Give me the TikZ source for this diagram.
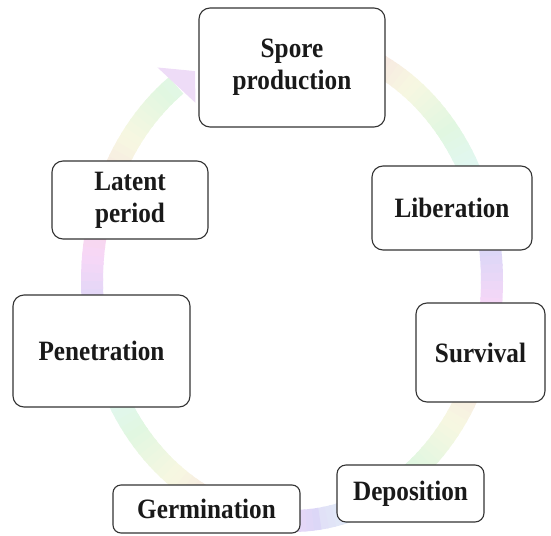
\documentclass[tikz,border=0pt]{standalone}
\usepackage{fontspec}
\setmainfont{Liberation Serif}[FakeStretch=0.9]
\begin{document}
\begin{tikzpicture}[x=1pt,y=-1pt,
  stage/.style={draw=black!80,line width=1.1pt,fill=white,rounded corners=11pt,
    inner sep=0pt,align=center,font=\fontsize{28}{32}\selectfont\bfseries,text=black!90}]
\useasboundingbox (0,0) rectangle (551,535);
% pastel cycle ring
\foreach \t in {-80,-78,...,232}{
  \pgfmathsetmacro{\h}{mod(4*\t+1000,360)}
  \pgfmathsetmacro{\s}{(\h>240 || \h<20) ? 0.13 : 0.09}
  \definecolor{ringc}{Hsb}{\h,\s,0.97}
  \draw[ringc,line width=22pt]
    plot[domain=\t:\t+2.6,samples=3] ({292+200*cos(\x)},{281+240*sin(\x)});
}
% arrow head
\definecolor{headc}{Hsb}{280,0.11,0.97}
\fill[headc] ({292+200*cos(234.7)+26*0.73},{281+240*sin(234.7)+26*0.68})
  -- ({292+200*cos(234.7)-26*0.73},{281+240*sin(234.7)-26*0.68})
  -- ({292+200*cos(241)},{281+240*sin(241)}) -- cycle;
% stages
\node[stage,minimum width=186pt,minimum height=119pt] (spore) at (292,67.5) {Spore\\production};
\node[stage,minimum width=160pt,minimum height=84pt] (lib) at (452,208) {Liberation};
\node[stage,minimum width=129pt,minimum height=99pt] (surv) at (480.5,352.5) {Survival};
\node[stage,minimum width=147pt,minimum height=57pt,rounded corners=9pt] (dep) at (410.5,493.5) {Deposition};
\node[stage,minimum width=187pt,minimum height=48pt,rounded corners=8pt] (germ) at (206.5,509) {Germination};
\node[stage,minimum width=177pt,minimum height=112pt] (pen) at (101.5,351) {Penetration};
\node[stage,minimum width=156pt,minimum height=78pt] (lat) at (130,200) {Latent\\period};
\end{tikzpicture}
\end{document}
